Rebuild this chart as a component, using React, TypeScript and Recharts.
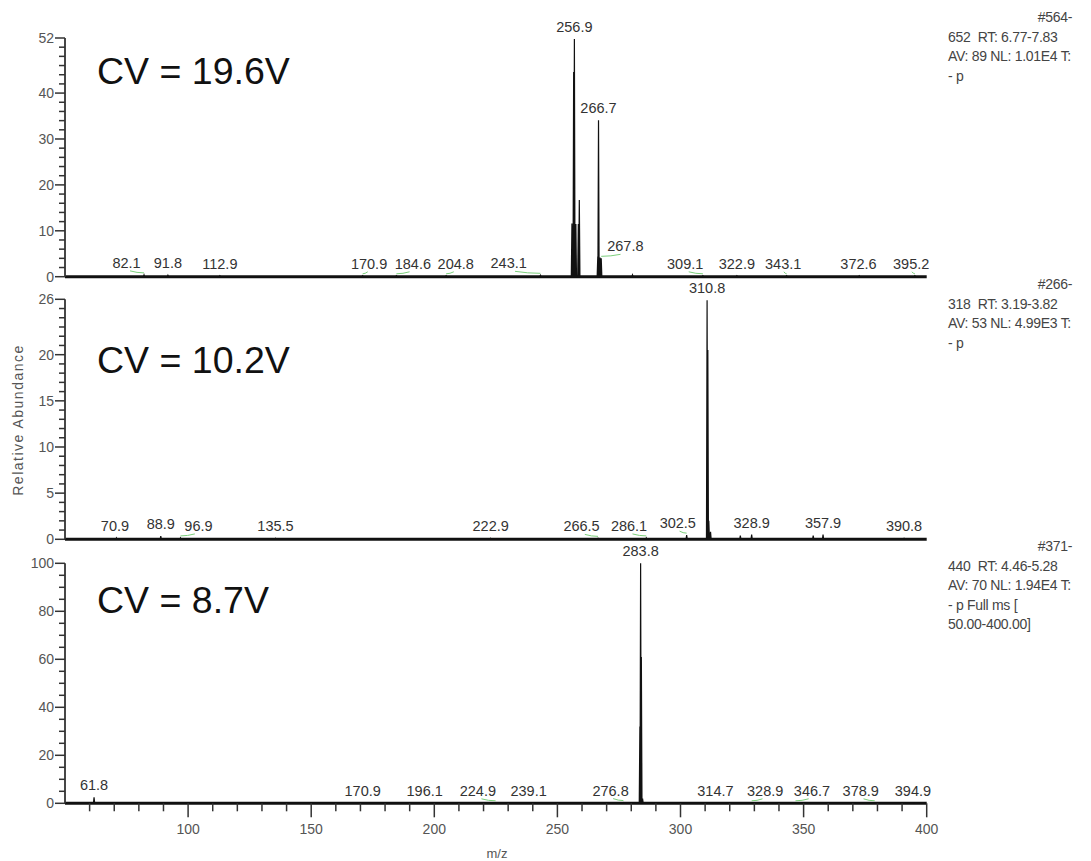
import React from 'react';
import { ComposedChart, Line, Scatter, XAxis, YAxis, ReferenceLine } from 'recharts';

const W = 1091;
const H = 861;
const PLOT_LEFT = 65;
const PLOT_RIGHT = 926.7;
const FONT = '"Liberation Sans", Arial, sans-serif';

const mzDomain: [number, number] = [50, 400];
const mzMajorTicks = [100, 150, 200, 250, 300, 350, 400];
const PX_PER_MZ = (PLOT_RIGHT - PLOT_LEFT) / (mzDomain[1] - mzDomain[0]);

// CV = 19.6V  [m/z, relative abundance]
const cv196Peaks: [number, number][] = [
  [82.1, 0.4], [91.8, 0.3], [112.9, 0.2], [170.9, 0.2], [184.6, 0.2], [204.8, 0.2],
  [243.1, 0.3], [255.9, 11.6], [256.6, 44.6], [256.9, 51.8], [257.5, 11.5],
  [258.5, 11.5], [258.9, 16.7], [266.4, 4.4], [266.7, 34.1], [267.3, 4.2],
  [267.8, 4.0], [280.5, 0.4], [309.1, 0.2], [322.9, 0.2], [343.1, 0.2],
  [372.6, 0.2], [395.2, 0.2],
];
// [labelled m/z, m/z where the label text sits]
const cv196Labels: [number, number][] = [
  [82.1, 75.0], [91.8, 91.8], [112.9, 112.9], [170.9, 173.5], [184.6, 191.3], [204.8, 208.7],
  [243.1, 230.2], [256.9, 256.9], [266.7, 266.7], [267.8, 277.6], [309.1, 301.9], [322.9, 322.9],
  [343.1, 341.7], [372.6, 372.3], [395.2, 393.7],
];
const cv196YMajor = [0, 10, 20, 30, 40, 52];
const cv196Info = ['#564-', '652  RT: 6.77-7.83', 'AV: 89 NL: 1.01E4 T:', '- p'];

// CV = 10.2V
const cv102Peaks: [number, number][] = [
  [70.9, 0.15], [88.9, 0.35], [96.9, 0.15], [135.5, 0.1], [222.9, 0.1], [266.5, 0.1],
  [286.1, 0.15], [302.5, 0.45], [310.8, 25.9], [311.1, 20.5], [311.5, 2.0],
  [312.2, 0.8], [324.3, 0.4], [328.9, 0.5], [353.9, 0.4], [357.9, 0.5], [390.8, 0.1],
];
const cv102Labels: [number, number][] = [
  [70.9, 70.3], [88.9, 88.9], [96.9, 104.2], [135.5, 135.5], [222.9, 222.9], [266.5, 259.8],
  [286.1, 279.1], [302.5, 298.9], [310.8, 310.8], [328.9, 328.9], [357.9, 357.9], [390.8, 390.8],
];
const cv102YMajor = [0, 5, 10, 15, 20, 26];
const cv102Info = ['#266-', '318  RT: 3.19-3.82', 'AV: 53 NL: 4.99E3 T:', '- p'];

// CV = 8.7V
const cv87Peaks: [number, number][] = [
  [61.8, 2.5], [170.9, 0.2], [196.1, 0.2], [224.9, 0.2], [239.1, 0.2], [276.8, 0.3],
  [283.5, 32], [283.8, 100], [284.1, 61], [284.6, 2], [314.7, 0.2], [328.9, 0.2],
  [346.7, 0.2], [378.9, 0.2], [394.9, 0.2],
];
const cv87Labels: [number, number][] = [
  [61.8, 61.8], [170.9, 170.9], [196.1, 196.1], [224.9, 217.7], [239.1, 238.3], [276.8, 271.6],
  [283.8, 283.8], [314.7, 314.2], [328.9, 334.4], [346.7, 353.4], [378.9, 373.2], [394.9, 394.4],
];
const cv87YMajor = [0, 20, 40, 60, 80, 100];
const cv87Info = ['#371-', '440  RT: 4.46-5.28', 'AV: 70 NL: 1.94E4 T:', '- p Full ms [', '50.00-400.00]'];

const range = (a: number, b: number, step: number) => {
  const out: number[] = [];
  for (let v = a; v <= b + 1e-9; v += step) out.push(Math.round(v * 100) / 100);
  return out;
};

// each peak is drawn as a narrow stick
const toProfile = (peaks: [number, number][]) =>
  peaks.flatMap(([mz, y]) => [
    { mz: mz - 0.25, y: 0 },
    { mz, y },
    { mz: mz + 0.25, y: 0 },
  ]);

const toLabels = (peaks: [number, number][], labels: [number, number][]) =>
  labels.map(([mz, at]) => {
    const hit = peaks.filter(p => Math.abs(p[0] - mz) < 0.05);
    return { mz, at, y: hit.length ? Math.max(...hit.map(p => p[1])) : 0, label: mz.toFixed(1) };
  });

const panels = [
  {
    name: 'CV = 19.6V', peaks: cv196Peaks, labels: cv196Labels, yMax: 52, yStep: 2, yMajor: cv196YMajor,
    info: cv196Info, top: 38, bottom: 276.7, cvY: 71, infoY: 17,
  },
  {
    name: 'CV = 10.2V', peaks: cv102Peaks, labels: cv102Labels, yMax: 26, yStep: 1, yMajor: cv102YMajor,
    info: cv102Info, top: 299.3, bottom: 539.3, cvY: 360, infoY: 284,
  },
  {
    name: 'CV = 8.7V', peaks: cv87Peaks, labels: cv87Labels, yMax: 100, yStep: 5, yMajor: cv87YMajor,
    info: cv87Info, top: 563.3, bottom: 803.3, cvY: 600, infoY: 546,
  },
];

const X_AXIS_H = 40;

const PeakLabel = (s: any) => {
  const dx = (s.payload.at - s.payload.mz) * PX_PER_MZ;
  const ly = s.cy - 12;
  return (
    <g>
      {Math.abs(dx) > 3 && (
        <path
          d={`M${s.cx},${s.cy - 2} Q${s.cx + dx * 0.4},${ly + 10} ${s.cx + dx * 0.8},${ly + 8}`}
          fill="none"
          stroke="#7ccf7c"
          strokeWidth={1}
        />
      )}
      <text x={s.cx + dx} y={ly} textAnchor="middle" dominantBaseline="central" fontSize={14.5} fill="#333" fontFamily={FONT}>
        {s.payload.label}
      </text>
    </g>
  );
};

const App: React.FC = () => {
  return (
    <div style={{ position: 'absolute', left: 0, top: 0, width: W, height: H, background: '#fff', fontFamily: FONT }}>
      {panels.map((p, i) => {
        const last = i === panels.length - 1;
        const yTicks = range(0, p.yMax, p.yStep);
        return (
          <div key={p.name} style={{ position: 'absolute', left: 0, top: 0 }}>
            <ComposedChart
              width={W}
              height={H}
              margin={{ top: p.top, right: W - PLOT_RIGHT, left: 0, bottom: H - p.bottom - (last ? X_AXIS_H : 0) }}
            >
              <XAxis
                dataKey="mz"
                type="number"
                domain={mzDomain}
                ticks={last ? range(60, 400, 10) : []}
                interval={0}
                height={last ? X_AXIS_H : 0}
                axisLine={false}
                tickLine={false}
                tickSize={0}
                tickMargin={0}
                tick={
                  last
                    ? (t: any) => {
                        const major = mzMajorTicks.includes(t.payload.value);
                        return (
                          <g key={`xt-${t.payload.value}`}>
                            <line x1={t.x} x2={t.x} y1={t.y} y2={t.y + (major ? 14 : 8)} stroke="#333" strokeWidth={1.5} />
                            {major && (
                              <text x={t.x} y={t.y + 26} textAnchor="middle" dominantBaseline="central" fontSize={14} fill="#555" fontFamily={FONT}>
                                {t.payload.value}
                              </text>
                            )}
                          </g>
                        );
                      }
                    : false
                }
              />
              <YAxis
                type="number"
                domain={[0, p.yMax]}
                ticks={yTicks}
                interval={0}
                width={PLOT_LEFT}
                axisLine={{ stroke: '#333', strokeWidth: 1.8 }}
                tickLine={false}
                tickSize={0}
                tickMargin={0}
                tick={(t: any) => {
                  const major = p.yMajor.includes(t.payload.value);
                  return (
                    <g key={`yt-${t.payload.value}`}>
                      <line x1={PLOT_LEFT - (major ? 10 : 6)} x2={PLOT_LEFT} y1={t.y} y2={t.y} stroke="#333" strokeWidth={1.5} />
                      {major && (
                        <text x={PLOT_LEFT - 11} y={t.y} textAnchor="end" dominantBaseline="central" fontSize={14} fill="#555" fontFamily={FONT}>
                          {t.payload.value}
                        </text>
                      )}
                    </g>
                  );
                }}
              />
              <ReferenceLine y={0} stroke="#111" strokeWidth={3} />
              <Line
                data={toProfile(p.peaks)}
                dataKey="y"
                type="linear"
                stroke="#111"
                strokeWidth={1.2}
                dot={false}
                activeDot={false}
                isAnimationActive={false}
              />
              <Scatter data={toLabels(p.peaks, p.labels)} dataKey="y" isAnimationActive={false} shape={PeakLabel} />
            </ComposedChart>
          </div>
        );
      })}
      <svg width={W} height={H} style={{ position: 'absolute', left: 0, top: 0, pointerEvents: 'none' }}>
        {panels.map(p => (
          <g key={`t-${p.name}`} fontFamily={FONT}>
            <text x={97} y={p.cvY} dominantBaseline="central" fontSize={37.5} fill="#111">
              {p.name}
            </text>
            {p.info.map((line, k) => (
              <text
                key={k}
                x={k === 0 ? 1072 : 948}
                y={p.infoY + k * 19.5}
                textAnchor={k === 0 ? 'end' : 'start'}
                dominantBaseline="central"
                fontSize={14}
                letterSpacing={-0.3}
                fill="#444"
                style={{ whiteSpace: 'pre' }}
              >
                {line}
              </text>
            ))}
          </g>
        ))}
        <text
          x={18}
          y={420}
          transform="rotate(-90 18 420)"
          textAnchor="middle"
          dominantBaseline="central"
          fontSize={14}
          letterSpacing={1.5}
          fill="#555"
          fontFamily={FONT}
        >
          Relative Abundance
        </text>
        <text x={497} y={853} textAnchor="middle" dominantBaseline="central" fontSize={13} fill="#555" fontFamily={FONT}>
          m/z
        </text>
      </svg>
    </div>
  );
};

export default App;
